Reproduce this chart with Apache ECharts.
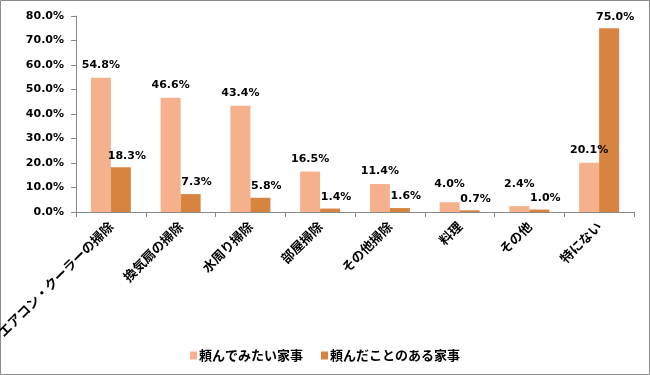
<!DOCTYPE html>
<html><head><meta charset="utf-8">
<script src="https://cdn.jsdelivr.net/npm/echarts@6/dist/echarts.min.js"></script>
<style>html,body{margin:0;padding:0;background:#fff}#c{width:650px;height:375px}</style>
</head><body><div id="c"></div>
<script>
const categories = ['エアコン・クーラーの掃除','換気扇の掃除','水周り掃除','部屋掃除','その他掃除','料理','その他','特にない'];
const seriesNames = ['頼んでみたい家事','頼んだことのある家事'];
const wantValues = [54.8, 46.6, 43.4, 16.5, 11.4, 4.0, 2.4, 20.1];
const doneValues = [18.3, 7.3, 5.8, 1.4, 1.6, 0.7, 1.0, 75.0];
const yTicks = {min: 0, max: 80, interval: 10};

const chart = echarts.init(document.getElementById('c'));
const numFont = '"DejaVu Sans", "Liberation Sans", sans-serif';
const jpFont = '"Noto Sans CJK JP", sans-serif';
// keep light-bar labels clear of the axis so they don't collide with the dark-bar labels
const liftLabel = p => {
  const axisY = p.rect.y + p.rect.height;
  const centre = p.labelRect.y + p.labelRect.height / 2;
  return {dy: Math.min(0, (axisY - 28) - centre)};
};
chart.setOption({
  animation: false,
  graphic: [{type:'rect', shape:{x:0.5,y:0.5,width:649,height:374}, style:{fill:'none', stroke:'#8c8c8c', lineWidth:1}}],
  grid: {left: 76, right: 16, top: 16, bottom: 163, containLabel: false, outerBoundsMode: 'none'},
  legend: {
    left: 'center', top: 344, itemWidth: 7, itemHeight: 8, itemGap: 18,
    icon: 'rect',
    textStyle: {fontFamily: jpFont, fontSize: 13, fontWeight: 'bold', color: '#000', padding:[0,0,0,-3]},
    data: seriesNames
  },
  xAxis: {
    type: 'category', data: categories,
    axisLine: {lineStyle: {color: '#888'}},
    axisTick: {show: true, length: 5, lineStyle: {color: '#888'}},
    axisLabel: {rotate: 45, interval: 0, margin: 12, fontFamily: jpFont, fontSize: 13, fontWeight: 'bold', color: '#000'}
  },
  yAxis: {
    type: 'value', min: yTicks.min, max: yTicks.max, interval: yTicks.interval,
    splitLine: {show: false},
    axisLine: {show: true, lineStyle: {color: '#888'}},
    axisTick: {show: true, length: 5, lineStyle: {color: '#888'}},
    axisLabel: {margin: 12, fontFamily: numFont, fontSize: 11, fontWeight: 'bold', color: '#000',
      formatter: v => v.toFixed(1) + '%'}
  },
  series: [
    {name: seriesNames[0], type: 'bar', data: wantValues, barWidth: 20, barGap: '0%',
     itemStyle: {color: '#F5B08C'},
     labelLayout: liftLabel,
     label: {show: true, position: 'top', distance: 7, offset: [-2, 0], fontFamily: numFont, fontSize: 11, fontWeight: 'bold', color: '#000',
       formatter: p => p.value.toFixed(1) + '%'}},
    {name: seriesNames[1], type: 'bar', data: doneValues, barWidth: 20,
     itemStyle: {color: '#D6843F'},
     label: {show: true, position: 'top', distance: 6, offset: [6, 0], fontFamily: numFont, fontSize: 11, fontWeight: 'bold', color: '#000',
       formatter: p => p.value.toFixed(1) + '%'}}
  ]
});
</script></body></html>
